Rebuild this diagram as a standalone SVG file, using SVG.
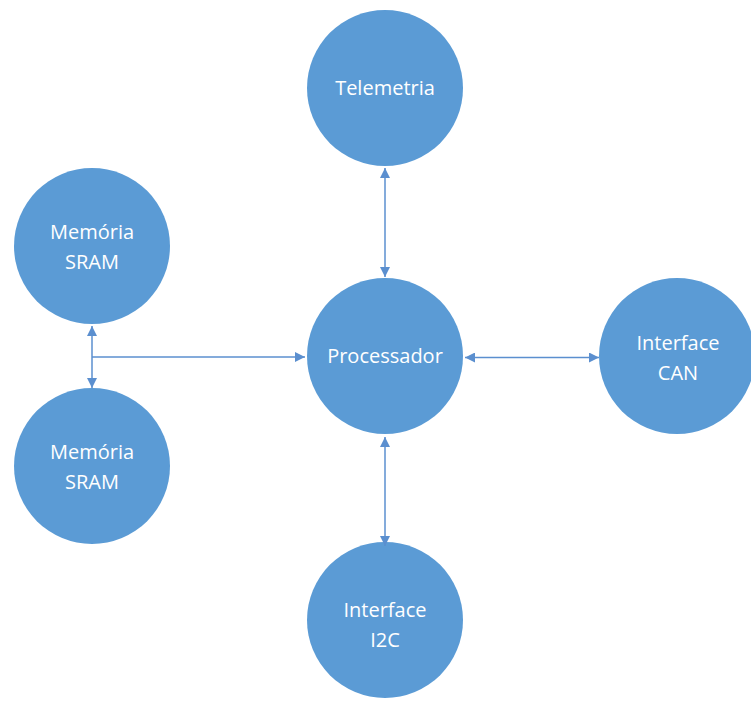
<svg xmlns="http://www.w3.org/2000/svg" width="751" height="702" viewBox="0 0 751 702">
<style>
.n{fill:#5B9BD5}
.t{fill:#fff;font-family:"Open Sans","Liberation Sans",sans-serif;font-size:20px;text-anchor:middle}
.c{stroke:#5B8FCF;stroke-width:1.5;fill:none;marker-start:url(#b);marker-end:url(#b)}
</style>
<defs>
<marker id="b" viewBox="0 0 10 10" refX="10" refY="5" markerWidth="11" markerHeight="10" orient="auto-start-reverse" markerUnits="userSpaceOnUse"><path d="M0,0L10,5L0,10z" fill="#5B8FCF"/></marker>
</defs>
<rect width="751" height="702" fill="#fff"/>
<g id="telemetria"><circle class="n" cx="385" cy="88" r="78"/><text class="t" x="385" y="95">Telemetria</text></g>
<g id="processador"><circle class="n" cx="385" cy="356" r="78"/><text class="t" x="385" y="363">Processador</text></g>
<g id="sram1"><circle class="n" cx="92" cy="246" r="78"/><text class="t" x="92" y="239">Memória</text><text class="t" x="92" y="269">SRAM</text></g>
<g id="sram2"><circle class="n" cx="92" cy="466" r="78"/><text class="t" x="92" y="459">Memória</text><text class="t" x="92" y="489">SRAM</text></g>
<g id="can"><circle class="n" cx="677" cy="356" r="78"/><text class="t" x="678" y="350">Interface</text><text class="t" x="678" y="380">CAN</text></g>
<g id="i2c"><circle class="n" cx="385" cy="620" r="78"/><text class="t" x="385" y="617">Interface</text><text class="t" x="385" y="647">I2C</text></g>
<g id="connectors">
<path class="c" d="M385,168V277"/>
<path class="c" d="M385,437V546"/>
<path class="c" d="M465,357.5H599"/>
<path class="c" d="M92,326V388"/>
<path style="stroke:#5B8FCF;stroke-width:1.5;fill:none;marker-end:url(#b)" d="M92,357H305"/>
</g>
</svg>
